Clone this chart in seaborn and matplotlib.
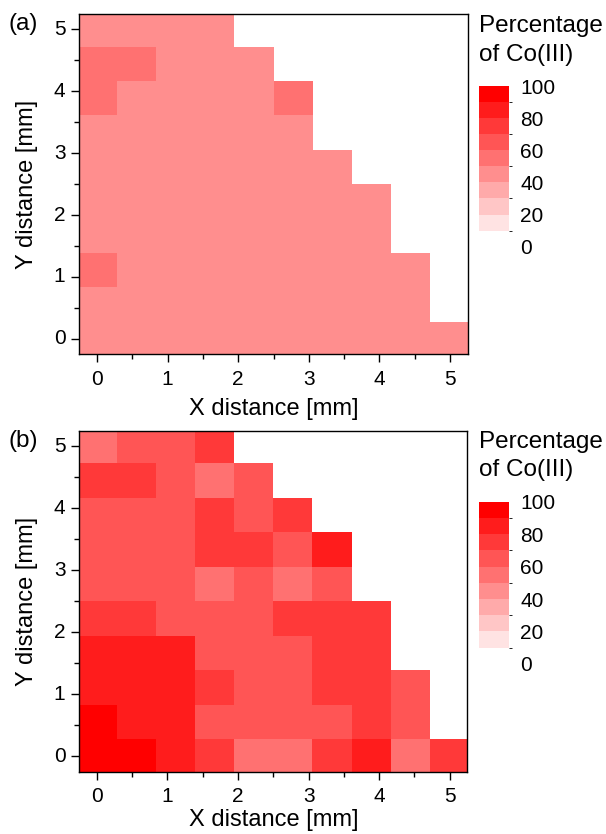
import numpy as np
import pandas as pd
import matplotlib
matplotlib.use("Agg")
import matplotlib.pyplot as plt
from matplotlib.colors import ListedColormap, BoundaryNorm
from matplotlib.ticker import FixedLocator
import seaborn as sns

# ---------------- data ----------------
# grid centres in mm (x: left -> right, y: top -> bottom as displayed)
X_MM = [0.00, 0.56, 1.11, 1.67, 2.22, 2.78, 3.33, 3.89, 4.44, 5.00]
Y_MM = [5.00, 4.44, 3.89, 3.33, 2.78, 2.22, 1.67, 1.11, 0.56, 0.00]
n = np.nan

# Percentage of Co(III), panel (a), rows top -> bottom
CO3_A = [
    [45, 45, 45, 45, n, n, n, n, n, n],
    [55, 55, 45, 45, 45, n, n, n, n, n],
    [55, 45, 45, 45, 45, 55, n, n, n, n],
    [45, 45, 45, 45, 45, 45, n, n, n, n],
    [45, 45, 45, 45, 45, 45, 45, n, n, n],
    [45, 45, 45, 45, 45, 45, 45, 45, n, n],
    [45, 45, 45, 45, 45, 45, 45, 45, n, n],
    [55, 45, 45, 45, 45, 45, 45, 45, 45, n],
    [45, 45, 45, 45, 45, 45, 45, 45, 45, n],
    [45, 45, 45, 45, 45, 45, 45, 45, 45, 45],
]

# Percentage of Co(III), panel (b), rows top -> bottom
CO3_B = [
    [55, 65, 65, 75, n, n, n, n, n, n],
    [75, 75, 65, 55, 65, n, n, n, n, n],
    [65, 65, 65, 75, 65, 75, n, n, n, n],
    [65, 65, 65, 75, 75, 65, 85, n, n, n],
    [65, 65, 65, 55, 65, 55, 65, n, n, n],
    [75, 75, 65, 65, 65, 75, 75, 75, n, n],
    [85, 85, 85, 65, 65, 65, 75, 75, n, n],
    [85, 85, 85, 75, 65, 65, 75, 75, 65, n],
    [95, 85, 85, 65, 65, 65, 65, 75, 65, n],
    [95, 95, 85, 75, 55, 55, 75, 85, 55, 75],
]

LEVELS = [0, 10, 20, 30, 40, 50, 60, 70, 80, 90, 100]
CBAR_TICKS = [0, 20, 40, 60, 80, 100]
MM_TICKS = [0, 1, 2, 3, 4, 5]
MM_MINOR = [0.5, 1.5, 2.5, 3.5, 4.5]
AX_LIM_MM = (-0.25, 5.25)

# ---------------- style ----------------
plt.rcParams['font.family'] = ['Liberation Sans', 'DejaVu Sans']
TICK_FS = 15
LABEL_FS = 17
TITLE_FS = 17.5

ncol = len(LEVELS) - 1
cols = [(1.0, 1.0 - k / (ncol - 1), 1.0 - k / (ncol - 1)) for k in range(ncol)]
cmap = ListedColormap(cols)
norm = BoundaryNorm(LEVELS, ncol)

W, H = 606, 834
fig = plt.figure(figsize=(W / 100, H / 100), dpi=100)


def fx(px):
    return px / W


def fy(py):
    return 1 - py / H


step = (X_MM[-1] - X_MM[0]) / (len(X_MM) - 1)


def to_idx(m):
    return [(v - X_MM[0]) / step + 0.5 for v in np.atleast_1d(m)]


def panel(data, ax_box, cax_box, tag, tag_y, title_y, xlabel_pad):
    l, t, r, b = ax_box
    ax = fig.add_axes([fx(l), fy(b), fx(r) - fx(l), fy(t) - fy(b)])
    cl, ct, cr, cb_ = cax_box
    cax = fig.add_axes([fx(cl), fy(cb_), fx(cr) - fx(cl), fy(ct) - fy(cb_)])

    df = pd.DataFrame(data, index=Y_MM, columns=X_MM).iloc[::-1]
    sns.heatmap(df, ax=ax, cbar_ax=cax, cmap=cmap, norm=norm,
                xticklabels=False, yticklabels=False, linewidths=0)

    lo, hi = to_idx(AX_LIM_MM)
    ax.set_xlim(lo, hi)
    ax.set_ylim(lo, hi)
    ax.set_xticks(to_idx(MM_TICKS))
    ax.set_xticklabels([str(v) for v in MM_TICKS])
    ax.set_yticks(to_idx(MM_TICKS))
    ax.set_yticklabels([str(v) for v in MM_TICKS], rotation=0, va='center')
    ax.xaxis.set_minor_locator(FixedLocator(to_idx(MM_MINOR)))
    ax.yaxis.set_minor_locator(FixedLocator(to_idx(MM_MINOR)))
    ax.tick_params(which='major', direction='out', length=6, width=1,
                   labelsize=TICK_FS, color='black', labelcolor='black')
    ax.tick_params(axis='x', which='major', pad=5)
    ax.tick_params(axis='y', which='major', pad=4)
    ax.tick_params(which='minor', direction='out', length=3.5, width=1, color='black')
    for sp in ax.spines.values():
        sp.set_visible(True)
        sp.set_color('black')
        sp.set_linewidth(1.0)
    ax.set_xlabel('X distance [mm]', fontsize=LABEL_FS, labelpad=xlabel_pad)
    ax.set_ylabel('Y distance [mm]', fontsize=LABEL_FS, labelpad=11)

    cbar = ax.collections[0].colorbar
    cbar.set_ticks(CBAR_TICKS)
    cbar.set_ticklabels([str(v) for v in CBAR_TICKS])
    cbar.ax.tick_params(length=0, labelsize=TICK_FS, pad=8)
    cbar.outline.set_visible(False)

    fig.text(fx(9), fy(tag_y), tag, fontsize=TITLE_FS, ha='left', va='center')
    fig.text(fx(479), fy(title_y[0]), 'Percentage', fontsize=TITLE_FS,
             ha='left', va='baseline')
    fig.text(fx(479), fy(title_y[1]), 'of Co(III)', fontsize=TITLE_FS,
             ha='left', va='baseline')
    return ax


panel(CO3_A, (79.3, 14, 467.7, 354.3), (479, 86, 509.3, 246.7),
      '(a)', 24, (31.7, 61.0), 6.5)
panel(CO3_B, (79.3, 430.7, 467.3, 771.7), (479, 501.7, 509.3, 663.9),
      '(b)', 440.5, (448.3, 476.0), 2.5)

fig.savefig('out.png', dpi=100)
